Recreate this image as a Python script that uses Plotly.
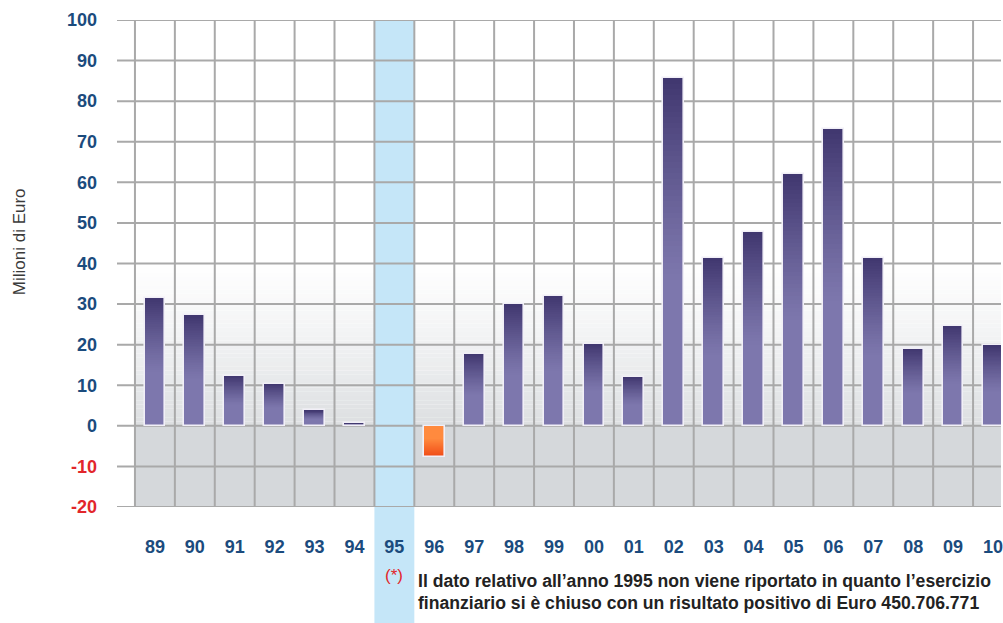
import plotly.graph_objects as go

# Annual results, millions of euro (1995 not reported)
years = ["89", "90", "91", "92", "93", "94", "95", "96", "97", "98", "99",
         "00", "01", "02", "03", "04", "05", "06", "07", "08", "09", "10"]
values = [31.6, 27.2, 12.3, 10.4, 3.8, 0.7, None, -7.6, 17.8, 29.9, 32.1,
          20.2, 12.1, 85.7, 41.4, 47.7, 62.0, 73.1, 41.4, 19.0, 24.7, 19.8]
y_ticks = list(range(-20, 101, 10))
highlight_year = "95"
note_line1 = "Il dato relativo all\u2019anno 1995 non viene riportato in quanto l\u2019esercizio"
note_line2 = "finanziario si \u00e8 chiuso con un risultato positivo di Euro 450.706.771"

W, H = 1003, 623
ML, MT, MB = 117, 20, 116
X_RANGE = [-0.95, 21.2]
Y_RANGE = [-20, 100]
BAR_W = 0.52

BLUE_TXT = "#1b4b7d"
RED_TXT = "#e2262b"
GRID = "#a9a9a9"
HILITE = "#c5e6f8"
FONT = "Liberation Sans, Arial"

pos = list(range(len(years)))


def lerp(c1, c2, t):
    a = [int(c1[i:i + 2], 16) for i in (1, 3, 5)]
    b = [int(c2[i:i + 2], 16) for i in (1, 3, 5)]
    return "rgb(%d,%d,%d)" % tuple(round(a[i] + (b[i] - a[i]) * t) for i in range(3))


def px_x(data_x):
    return (data_x - X_RANGE[0]) / (X_RANGE[1] - X_RANGE[0])


plot_h = H - MT - MB


def py(pix):
    return (H - MB - pix) / plot_h


fig = go.Figure()

# base fill of each bar
base_cols = ["#7d77ad" if (v is not None and v >= 0) else "#ff8a3e" for v in values]
fig.add_trace(go.Bar(x=pos, y=values, width=BAR_W, marker=dict(color=base_cols, line=dict(width=0)),
                     hoverinfo="skip", showlegend=False))

# stepped vertical gradient towards the end of each bar
steps = 36
start = 0.42
for k in range(steps):
    f = start + (1 - start) * k / steps
    t = (k + 1) / steps
    seg_base, seg_len, cols = [], [], []
    for v in values:
        if v is None:
            seg_base.append(None)
            seg_len.append(None)
            cols.append("rgba(0,0,0,0)")
            continue
        seg_base.append(v * f)
        seg_len.append(v * (1 - f))
        if v >= 0:
            cols.append(lerp("#7d77ad", "#413870", t ** 1.2))
        else:
            cols.append(lerp("#ff8a3e", "#f04b16", t))
    fig.add_trace(go.Bar(x=pos, y=seg_len, base=seg_base, width=BAR_W,
                         marker=dict(color=cols, line=dict(width=0)),
                         hoverinfo="skip", showlegend=False))

# pale outline drawn on top
fig.add_trace(go.Bar(x=pos, y=values, width=BAR_W,
                     marker=dict(color="rgba(0,0,0,0)", line=dict(color="#f1eff7", width=1.6)),
                     hovertemplate="%{x}: %{y}<extra></extra>", showlegend=False))

shapes = []
hi = years.index(highlight_year)

# highlighted column below the plot area (labels and note)
shapes.append(dict(type="rect", xref="paper", yref="paper",
                   x0=px_x(hi - 0.5), x1=px_x(hi + 0.5), y0=py(H + 2), y1=0.5,
                   fillcolor=HILITE, line=dict(width=0), layer="below"))

# background: white top, soft grey fade towards zero, flat grey below zero
shapes.append(dict(type="rect", xref="x", yref="y", x0=-0.5, x1=21.5, y0=0, y1=100,
                   fillcolor="#ffffff", line=dict(width=0), layer="below"))
fade_top = 42
n_fade = 40
for i in range(n_fade):
    y0 = fade_top * i / n_fade
    y1 = fade_top * (i + 1) / n_fade
    t = 1 - (i + 0.5) / n_fade
    shapes.append(dict(type="rect", xref="x", yref="y", x0=-0.5, x1=21.5, y0=y0, y1=y1,
                       fillcolor=lerp("#ffffff", "#dcdee1", t ** 1.3), line=dict(width=0), layer="below"))
shapes.append(dict(type="rect", xref="x", yref="y", x0=-0.5, x1=21.5, y0=-20, y1=0,
                   fillcolor="#d5d8db", line=dict(width=0), layer="below"))

# highlighted column inside the plot area
shapes.append(dict(type="rect", xref="x", yref="y", x0=hi - 0.5, x1=hi + 0.5, y0=-20, y1=100,
                   fillcolor=HILITE, line=dict(width=0), layer="below"))

# horizontal grid lines, reaching a little left of the first column
for v in y_ticks:
    shapes.append(dict(type="line", xref="x", yref="y", x0=X_RANGE[0], x1=X_RANGE[1], y0=v, y1=v,
                       line=dict(color=GRID, width=2), layer="below"))

# column separators
for k in range(-1, len(years)):
    shapes.append(dict(type="line", xref="x", yref="y", x0=k + 0.5, x1=k + 0.5, y0=-20, y1=100,
                       line=dict(color=GRID, width=2), layer="below"))

ytext = []
for v in y_ticks:
    c = RED_TXT if v < 0 else BLUE_TXT
    ytext.append("<span style='color:%s'><b>%d</b></span>" % (c, v))

annotations = [
    dict(text="Milioni di Euro", xref="paper", yref="paper", x=(19 - ML) / (W - ML), y=py(242),
         textangle=-90, showarrow=False, font=dict(size=17, color="#3a3a3a", family=FONT),
         xanchor="center", yanchor="middle"),
    dict(text="(*)", xref="paper", yref="paper", x=px_x(hi), y=py(575), showarrow=False,
         font=dict(size=17, color=RED_TXT, family=FONT), xanchor="center", yanchor="middle"),
    dict(text="<b>%s</b>" % note_line1, xref="paper", yref="paper", x=(417 - ML) / (W - ML), y=py(581),
         showarrow=False, font=dict(size=17.6, color="#222222", family=FONT),
         xanchor="left", yanchor="middle"),
    dict(text="<b>%s</b>" % note_line2, xref="paper", yref="paper", x=(417 - ML) / (W - ML), y=py(603),
         showarrow=False, font=dict(size=17.6, color="#222222", family=FONT),
         xanchor="left", yanchor="middle"),
]

fig.update_layout(
    width=W, height=H,
    margin=dict(l=ML, r=0, t=MT, b=MB, pad=0),
    paper_bgcolor="#ffffff", plot_bgcolor="rgba(0,0,0,0)",
    barmode="overlay", bargap=0,
    shapes=shapes, annotations=annotations,
    font=dict(family=FONT, color=BLUE_TXT),
    xaxis=dict(range=X_RANGE, tickmode="array", tickvals=pos,
               ticktext=["<b>%s</b>" % y for y in years],
               showgrid=False, zeroline=False, showline=False, ticks="",
               tickfont=dict(size=18, color=BLUE_TXT), ticklabelstandoff=27,
               ticklabeloverflow="allow", fixedrange=True),
    yaxis=dict(range=Y_RANGE, tickmode="array", tickvals=y_ticks, ticktext=ytext,
               showgrid=False, zeroline=False, showline=False,
               ticks="", tickfont=dict(size=18), ticklabelstandoff=19, fixedrange=True),
)

fig.write_html("out.html")
